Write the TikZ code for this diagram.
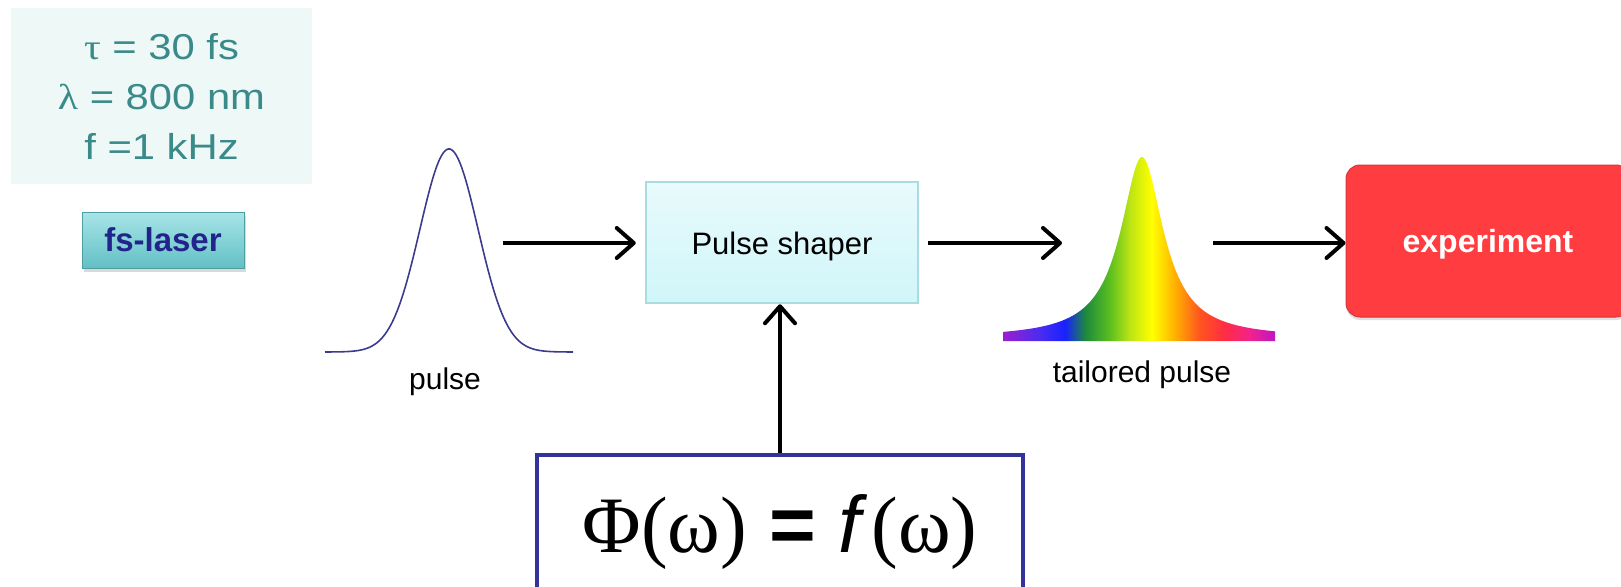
\documentclass[tikz,border=0pt]{standalone}
\usepackage{fontspec}
\setmainfont{Liberation Sans}
\newfontfamily\grkfont{Liberation Serif}
\newfontfamily\parfont{Liberation Sans}[FakeStretch=1.16]
\newfontfamily\pargrk{Liberation Serif}[FakeStretch=1.16]
\usetikzlibrary{arrows.meta,positioning,shadows}
\definecolor{partxt}{HTML}{3A8A8A}
\definecolor{parbg}{HTML}{EEF8F7}
\definecolor{btntop}{HTML}{A8E5E7}
\definecolor{btnbot}{HTML}{62C0C5}
\definecolor{btnedge}{HTML}{4E9FA3}
\definecolor{navyx}{HTML}{23238C}
\definecolor{pulsex}{HTML}{3C3C8E}
\definecolor{shtop}{HTML}{E8FAFC}
\definecolor{shbot}{HTML}{D0F6F9}
\definecolor{shedge}{HTML}{A8DCE0}
\definecolor{expred}{HTML}{FF3C40}
\definecolor{expedge}{HTML}{D8363A}
\definecolor{phiedge}{HTML}{333399}
\definecolor{rbA}{HTML}{9A1FD0}
\definecolor{rbB}{HTML}{4A2CF0}
\definecolor{rbC}{HTML}{1822FF}
\definecolor{rbD}{HTML}{1C8A3C}
\definecolor{rbE}{HTML}{5CC020}
\definecolor{rbF}{HTML}{BCE414}
\definecolor{rbG}{HTML}{FFFF00}
\definecolor{rbH}{HTML}{FFB000}
\definecolor{rbI}{HTML}{FF5420}
\definecolor{rbJ}{HTML}{FF2C44}
\definecolor{rbK}{HTML}{F0228C}
\definecolor{rbL}{HTML}{C016C4}
\pgfdeclarehorizontalshading{rainbowpulse}{100bp}{color(0bp)=(rbA); color(25bp)=(rbA);
  color(31.8bp)=(rbB); color(36.4bp)=(rbC); color(40.1bp)=(rbD); color(44.7bp)=(rbE);
  color(48.3bp)=(rbF); color(52.4bp)=(rbG); color(56.6bp)=(rbH); color(61.2bp)=(rbI);
  color(65.8bp)=(rbJ); color(70.4bp)=(rbK); color(75bp)=(rbL); color(100bp)=(rbL)}
\tikzset{
  ar/.style={-{Straight Barb[length=17pt,width=30pt,round]},line width=4pt,black},
  lbl/.style={font=\fontsize{30}{36}\selectfont,anchor=base,inner sep=0pt},
  parbox/.style={fill=parbg,minimum width=301pt,minimum height=176pt,inner sep=0pt,align=center,
    text=partxt,font=\parfont\fontsize{36}{50}\selectfont},
  btn/.style={draw=btnedge,line width=1pt,top color=btntop,bottom color=btnbot,
    minimum width=162pt,minimum height=56pt,inner sep=0pt,text=navyx,
    text height=23pt,text depth=0pt,font=\bfseries\fontsize{33}{38}\selectfont,
    drop shadow={shadow xshift=2pt,shadow yshift=-4pt,opacity=0.3}},
  shbox/.style={draw=shedge,line width=2.5pt,top color=shtop,bottom color=shbot,
    minimum width=272pt,minimum height=121pt,inner sep=0pt,
    text height=23pt,text depth=0pt,font=\fontsize{31}{36}\selectfont},
  expbox/.style={fill=expred,draw=expedge,line width=1pt,rounded corners=14pt,
    minimum width=284pt,minimum height=152pt,inner sep=0pt,text=white,
    text height=23pt,text depth=0pt,font=\bfseries\fontsize{32}{38}\selectfont,
    drop shadow={shadow xshift=0pt,shadow yshift=-3pt,opacity=0.25}},
  phibox/.style={draw=phiedge,line width=4pt,fill=white,anchor=north,
    minimum width=486pt,minimum height=155pt,inner sep=0pt,font=\fontsize{80}{92}\selectfont}
}
\begin{document}
\begin{tikzpicture}[x=1pt,y=-1pt]
\useasboundingbox (0,0) rectangle (1621,586);
\clip (0,0) rectangle (1621,586);
% laser data
\node[parbox] (par) at (161.5,96) {{\pargrk τ} = 30 fs\\{\pargrk λ} = 800 nm\\f =1 kHz};
\node[btn] (laser) at (163,240) {fs-laser};
% input pulse
\draw[pulsex,line width=1.6pt] plot[domain=325:573,samples=150] (\x,{352-203*exp(-0.5*((\x-449)/29)^2)});
\node[lbl] (pulse) at (445,389) {pulse};
% shaper and control
\node[shbox] (shaper) at (782,242.5) {Pulse shaper};
\node[phibox] (phi) at (780,453) {{\grkfont Φ(ω)} \textbf{=} \textit{f}\hspace{4pt}{\grkfont(ω)}};
% output pulse
\shade[shading=rainbowpulse] (1003,341) -- plot[domain=1003:1275,samples=200] (\x,{338-181/(1+((\x-1142)/26)^2)}) -- (1275,341) -- cycle;
\node[lbl] (tail) at (1142,382) {tailored pulse};
\node[expbox] (expt) at (1488,241) {experiment};
% arrows
\coordinate (pulseout) at (503,243);
\coordinate (tailin) at (1062,243);
\coordinate (tailout) at (1213,243);
\draw[ar,shorten >=9pt] (pulseout) -- (pulseout -| shaper.west);
\draw[ar,shorten <=9pt] (shaper.east |- tailin) -- (tailin);
\draw[ar] (tailout) -- (tailout -| expt.west);
\draw[ar] (phi.north) -- (phi.north |- shaper.south);
\end{tikzpicture}
\end{document}
